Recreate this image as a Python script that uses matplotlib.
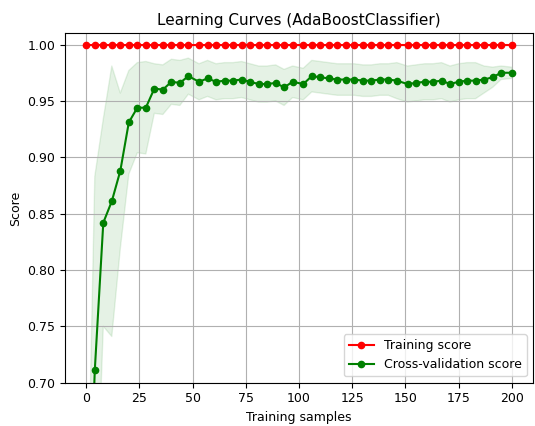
import matplotlib
matplotlib.use("Agg")
import matplotlib.pyplot as plt
import numpy as np

train_sizes = [0, 4, 8, 12, 16, 20, 24, 28, 32, 36, 40, 44, 48, 53, 57, 61, 65, 69, 73, 77,
               81, 85, 89, 93, 97, 102, 106, 110, 114, 118, 122, 126, 130, 134, 138, 142, 146, 151, 155, 159,
               163, 167, 171, 175, 179, 183, 187, 191, 195, 200]
train_mean = [1.0] * 50
train_std = [0.0] * 50
test_mean = [0.500, 0.711, 0.842, 0.861, 0.888, 0.931, 0.944, 0.944, 0.961, 0.960,
             0.967, 0.966, 0.972, 0.967, 0.970, 0.967, 0.968, 0.968, 0.969, 0.967,
             0.965, 0.965, 0.966, 0.962, 0.967, 0.965, 0.972, 0.971, 0.970, 0.969,
             0.969, 0.969, 0.968, 0.968, 0.969, 0.969, 0.968, 0.965, 0.966, 0.967,
             0.967, 0.968, 0.965, 0.967, 0.968, 0.968, 0.969, 0.971, 0.975, 0.975]
test_std = [0.020, 0.172, 0.092, 0.120, 0.069, 0.046, 0.040, 0.041, 0.022, 0.022,
            0.020, 0.020, 0.016, 0.016, 0.016, 0.016, 0.016, 0.016, 0.016, 0.016,
            0.016, 0.016, 0.016, 0.016, 0.014, 0.014, 0.014, 0.014, 0.014, 0.014,
            0.014, 0.014, 0.014, 0.014, 0.014, 0.014, 0.016, 0.016, 0.016, 0.016,
            0.016, 0.016, 0.016, 0.016, 0.016, 0.016, 0.012, 0.009, 0.006, 0.005]

x = np.array(train_sizes)
tm, ts = np.array(train_mean), np.array(train_std)
vm, vs = np.array(test_mean), np.array(test_std)

fig = plt.figure(figsize=(5.35, 4.26), dpi=100)
ax = fig.add_axes([0.1215, 0.1016, 0.8748, 0.8202])
ax.set_title("Learning Curves (AdaBoostClassifier)", fontsize=11)
ax.set_ylim(0.7, 1.01)
ax.set_xlabel("Training samples", fontsize=9)
ax.set_ylabel("Score", fontsize=9)
ax.grid(True)
ax.fill_between(x, tm - ts, tm + ts, alpha=0.1, color="r")
ax.fill_between(x, vm - vs, vm + vs, alpha=0.1, color="g")
ax.plot(x, tm, 'o-', color="r", label="Training score", markersize=4.5)
ax.plot(x, vm, 'o-', color="g", label="Cross-validation score", markersize=4.5)
ax.tick_params(labelsize=9)
ax.legend(loc="best", fontsize=9)
fig.savefig("out.png", dpi=100)
